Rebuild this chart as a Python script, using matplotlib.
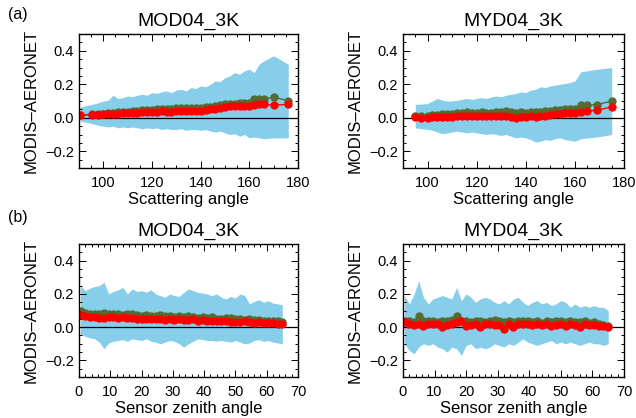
import matplotlib
matplotlib.use('Agg')
import matplotlib.pyplot as plt
from matplotlib.ticker import MultipleLocator

plt.rcParams['font.family'] = ['Liberation Sans', 'DejaVu Sans']

# Scattering angle, MOD04_3K
sca_mod = [90.5, 95.5, 98, 100, 102, 104, 106, 108, 110, 112, 114, 116, 118, 120, 122, 124, 126, 128, 130,
           132, 134, 136, 138, 140, 142, 144, 146, 148, 150, 152, 154, 156, 158, 160, 162, 164, 166, 170, 176]
sca_mod_med = [.015, .018, .018, .02, .022, .022, .025, .027, .028, .03, .03, .033, .035, .035, .036, .038, .037,
               .035, .04, .042, .04, .043, .04, .042, .045, .05, .055, .06, .065, .068, .07, .07, .072, .07, .078,
               .08, .08, .075, .08]
sca_mod_mean = [.018, .02, .02, .024, .027, .03, .032, .035, .037, .04, .042, .044, .046, .048, .05, .052, .053,
                .054, .056, .057, .058, .06, .058, .06, .063, .066, .07, .075, .08, .082, .085, .087, .088, .09,
                .112, .115, .11, .125, .1]
sca_mod_hi = [.065, .08, .09, .1, .105, .135, .115, .12, .13, .125, .135, .14, .135, .15, .145, .155, .16, .15,
              .165, .17, .16, .18, .175, .19, .185, .2, .22, .215, .24, .25, .27, .26, .28, .29, .27, .32, .34,
              .37, .32]
sca_mod_lo = [-.02, -.035, -.045, -.05, -.055, -.05, -.06, -.055, -.06, -.055, -.06, -.065, -.06, -.065, -.06,
              -.07, -.065, -.07, -.07, -.065, -.075, -.07, -.07, -.075, -.07, -.08, -.085, -.08, -.09, -.1,
              -.095, -.11, -.1, -.12, -.115, -.12, -.125, -.12, -.12]

# Scattering angle, MYD04_3K
sca_myd = [95, 97.5, 100, 102, 104, 106, 108, 110, 112, 114, 116, 118, 120, 122, 124, 126, 128, 130, 132, 134,
           136, 138, 140, 142, 144, 146, 148, 150, 152, 154, 156, 158, 160, 162.5, 165, 169, 175]
sca_myd_med = [.005, .0, .0, .003, .002, .005, .003, .006, .008, .01, .012, .01, .01, .012, .01, .012, .01, .012,
               .01, .005, .0, .005, .006, .008, .006, .008, .012, .018, .022, .025, .03, .03, .03, .035, .04,
               .045, .065]
sca_myd_mean = [.01, .01, .012, .015, .018, .02, .022, .025, .028, .03, .032, .03, .03, .032, .03, .03, .032,
                .035, .04, .033, .03, .032, .03, .032, .035, .035, .04, .042, .045, .048, .055, .055, .055, .075,
                .077, .078, .1]
sca_myd_hi = [.08, .082, .085, .1, .115, .105, .1, .1, .105, .11, .115, .11, .115, .12, .115, .125, .13, .125,
              .135, .14, .145, .155, .15, .165, .17, .185, .18, .19, .195, .2, .205, .21, .22, .275, .28, .29, .3]
sca_myd_lo = [-.06, -.065, -.07, -.075, -.085, -.095, -.09, -.085, -.08, -.085, -.09, -.085, -.09, -.095, -.1,
              -.095, -.1, -.105, -.1, -.11, -.12, -.115, -.12, -.13, -.145, -.14, -.13, -.135, -.125, -.12,
              -.13, -.135, -.14, -.125, -.12, -.115, -.1]

# Sensor zenith angle bins
zen = [0.5, 2, 3.5, 5, 6.5, 8, 9.5, 11, 12.5, 14, 15.5, 17, 18.5, 20, 21.5, 23, 24.5, 26, 27.5, 29, 30.5, 32,
       33.5, 35, 36.5, 38, 39.5, 41, 42.5, 44, 45.5, 47, 48.5, 50, 51.5, 53, 54.5, 56, 57.5, 59, 60.5, 62, 63.5, 65]

zen_mod_med = [.072, .065, .06, .062, .058, .055, .06, .062, .058, .06, .055, .057, .052, .05, .05, .048, .052,
               .05, .046, .048, .045, .05, .043, .045, .048, .04, .042, .038, .04, .036, .035, .038, .033, .03,
               .032, .035, .03, .028, .03, .027, .025, .027, .022, .02]
zen_mod_mean = [.095, .085, .08, .082, .078, .085, .08, .078, .082, .076, .078, .08, .072, .07, .072, .068, .07,
                .072, .065, .068, .062, .065, .06, .068, .062, .058, .06, .055, .062, .052, .05, .055, .058, .048,
                .05, .045, .048, .042, .045, .04, .038, .04, .035, .03]
zen_mod_hi = [.25, .22, .235, .245, .25, .27, .2, .215, .225, .24, .2, .23, .215, .22, .21, .225, .2, .19, .18,
              .2, .19, .185, .21, .23, .22, .21, .205, .2, .19, .2, .18, .17, .185, .175, .2, .19, .14, .155, .165,
              .15, .16, .145, .14, .135]
zen_mod_lo = [-.045, -.055, -.065, -.07, -.09, -.13, -.095, -.085, -.08, -.075, -.085, -.07, -.075, -.08, -.07,
              -.085, -.09, -.1, -.09, -.08, -.085, -.1, -.12, -.1, -.085, -.07, -.075, -.08, -.08, -.085, -.08,
              -.085, -.09, -.08, -.09, -.1, -.095, -.08, -.075, -.085, -.08, -.09, -.095, -.1]

zen_myd_med = [.03, .02, .015, .02, .005, .02, .018, .022, .0, .015, .02, .03, .035, .01, .015, .02, .0, .018,
               .02, .015, .012, -.01, .018, .0, .02, .022, .02, .015, .018, .012, .02, .005, .015, .02, .01, .018,
               .015, .0, .02, .012, .015, .01, .005, .003]
zen_myd_mean = [.04, .035, .03, .065, .04, .035, .04, .03, .04, .035, .045, .07, .04, .035, .03, .04, .035, .03,
                .04, .045, .035, .03, .035, .03, .04, .038, .035, .03, .035, .028, .04, .03, .035, .038, .03, .035,
                .03, .03, .035, .025, .03, .02, .015, .01]
zen_myd_hi = [.19, .14, .2, .28, .18, .14, .17, .18, .19, .18, .17, .24, .16, .2, .18, .15, .17, .18, .17, .15,
              .14, .16, .14, .17, .18, .15, .13, .15, .16, .14, .15, .13, .14, .16, .15, .12, .14, .12, .13, .12,
              .13, .12, .12, .1]
zen_myd_lo = [-.1, -.14, -.16, -.12, -.1, -.11, -.1, -.12, -.13, -.15, -.12, -.13, -.17, -.11, -.1, -.13, -.12,
              -.13, -.12, -.1, -.11, -.12, -.1, -.11, -.09, -.07, -.09, -.1, -.11, -.1, -.09, -.08, -.1, -.09,
              -.1, -.09, -.1, -.11, -.1, -.09, -.1, -.1, -.11, -.1]

BAND = '#87ceeb'
GREEN = '#556b2f'
RED = '#ff0000'

fig = plt.figure(figsize=(6.36, 4.18), dpi=100)

panels = [
    ([0.1242, 0.598, 0.3443, 0.3206], 'MOD04_3K', 'Scattering angle', sca_mod, sca_mod_mean, sca_mod_med, sca_mod_hi, sca_mod_lo, (90, 180), 20, 5),
    ([0.6336, 0.598, 0.3475, 0.3206], 'MYD04_3K', 'Scattering angle', sca_myd, sca_myd_mean, sca_myd_med, sca_myd_hi, sca_myd_lo, (90, 180), 20, 5),
    ([0.1242, 0.098, 0.3443, 0.318], 'MOD04_3K', 'Sensor zenith angle', zen, zen_mod_mean, zen_mod_med, zen_mod_hi, zen_mod_lo, (0, 70), 10, 2),
    ([0.6336, 0.098, 0.3475, 0.318], 'MYD04_3K', 'Sensor zenith angle', zen, zen_myd_mean, zen_myd_med, zen_myd_hi, zen_myd_lo, (0, 70), 10, 2),
]

for rect, title, xlabel, x, mean, med, hi, lo, xlim, xmaj, xmin in panels:
    ax = fig.add_axes(rect)
    ax.fill_between(x, lo, hi, color=BAND, lw=0)
    ax.axhline(0, color='k', lw=0.9)
    ax.plot(x, mean, '-o', color=GREEN, ms=5, lw=1)
    ax.plot(x, med, '-o', color=RED, ms=5, lw=1)
    ax.set_xlim(*xlim)
    ax.set_ylim(-0.3, 0.5)
    ax.xaxis.set_major_locator(MultipleLocator(xmaj))
    ax.xaxis.set_minor_locator(MultipleLocator(xmin))
    ax.yaxis.set_major_locator(MultipleLocator(0.2))
    ax.yaxis.set_minor_locator(MultipleLocator(0.05))
    ax.tick_params(which='both', direction='in', top=True, right=True, labelsize=10.5, width=0.7)
    ax.tick_params(axis='x', pad=6)
    ax.tick_params(which='major', length=5)
    ax.tick_params(which='minor', length=2.5)
    for s in ax.spines.values():
        s.set_linewidth(1)
    ax.set_title(title, fontsize=14, pad=6)
    ax.set_xlabel(xlabel, fontsize=12, labelpad=1)
    ax.set_ylabel('MODIS–AERONET', fontsize=12, labelpad=5)

fig.text(0.013, 0.955, '(a)', fontsize=11.5)
fig.text(0.013, 0.47, '(b)', fontsize=11.5)

fig.savefig('out.png', dpi=100)
